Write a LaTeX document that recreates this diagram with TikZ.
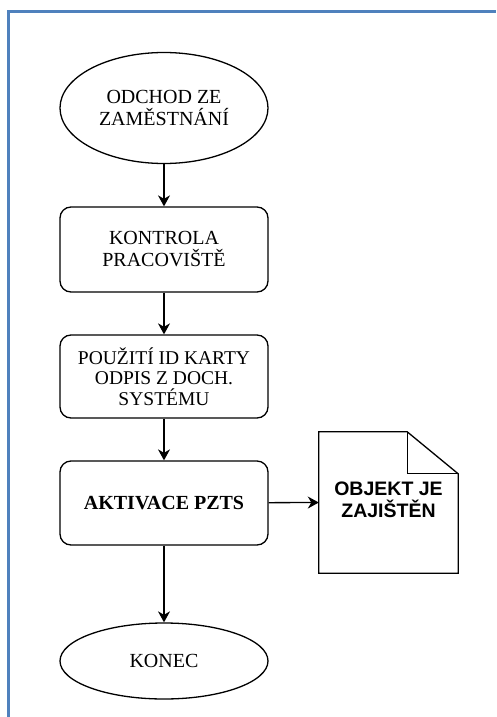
\documentclass[tikz,border=0pt]{standalone}
\usepackage{fontspec}
\setmainfont{Liberation Serif}
\newfontfamily\docfont{Liberation Sans}
\usetikzlibrary{shapes.geometric,arrows.meta}
\definecolor{framecol}{RGB}{79,129,189}
\begin{document}
\begin{tikzpicture}[x=1pt,y=-1pt,
  every node/.style={inner sep=0pt,align=center,font=\fontsize{20}{22}\selectfont},
  terminal/.style={ellipse,draw,line width=1.3pt,minimum width=208pt},
  process/.style={rectangle,rounded corners=11pt,draw,line width=1.3pt,minimum width=208pt,minimum height=85pt},
  flow/.style={line width=1.3pt,-{Stealth[length=11pt,width=12pt,inset=3.5pt]}}]
\useasboundingbox (0,0) rectangle (496,717);
% page frame
\draw[framecol,line width=3pt] (8.5,717) -- (8.5,11.5) -- (496,11.5);
% flow nodes
\node[terminal,minimum height=111pt] (start) at (164,108) {ODCHOD ZE\\ZAMĚSTNÁNÍ};
\node[process] (check) at (164,249.5) {KONTROLA\\PRACOVIŠTĚ};
\node[process,minimum height=83pt,font=\fontsize{19.5}{20.5}\selectfont] (card) at (164,376.5) {POUŽITÍ ID KARTY\\ODPIS Z DOCH.\\SYSTÉMU};
\node[process,minimum height=84pt,font=\fontsize{20}{22}\selectfont\bfseries] (arm) at (164,503) {AKTIVACE PZTS};
\node[terminal,minimum height=76pt] (end) at (164,661) {KONEC};
% document shape with folded corner
\node[rectangle,minimum width=139pt,minimum height=141pt] (doc) at (388.5,502.5) {};
\draw[line width=1.3pt,line join=miter]
  (doc.north west) -- ([xshift=-51pt]doc.north east) -- ([yshift=-42pt]doc.north east)
  -- (doc.south east) -- (doc.south west) -- cycle;
\draw[line width=1.3pt]
  ([xshift=-51pt]doc.north east) -- ++(0,-42pt) -- ([yshift=-42pt]doc.north east);
\node[font=\docfont\fontsize{19.5}{21.5}\selectfont\bfseries] (doctext) at (388.5,500) {OBJEKT JE\\ZAJIŠTĚN};
% connectors
\draw[flow] (start) -- (check);
\draw[flow] (check) -- (card);
\draw[flow] (card) -- (arm);
\draw[flow] (arm) -- (end);
\draw[flow] (arm) -- (doc.west);
\end{tikzpicture}
\end{document}
